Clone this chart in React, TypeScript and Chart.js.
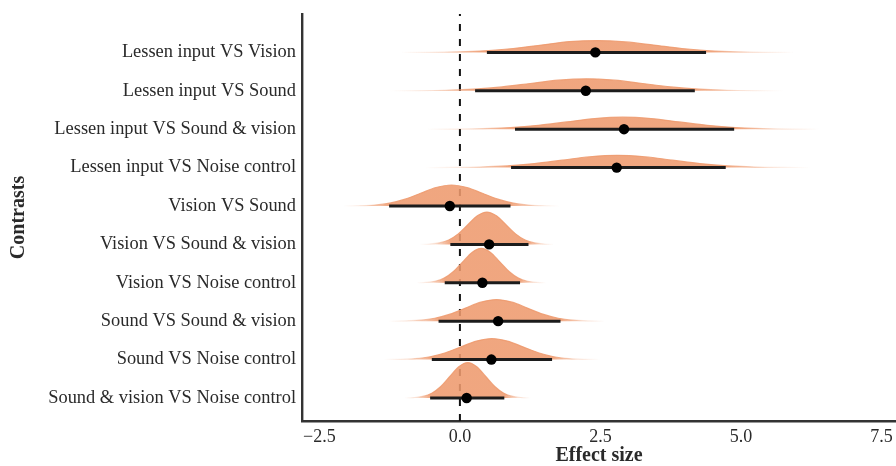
import React, { useEffect, useRef } from "react";
import { Chart, registerables } from "chart.js";

Chart.register(...registerables);

// ---------- data ----------
const categories = [
  "Lessen input VS Vision",
  "Lessen input VS Sound",
  "Lessen input VS Sound & vision",
  "Lessen input VS Noise control",
  "Vision VS Sound",
  "Vision VS Sound & vision",
  "Vision VS Noise control",
  "Sound VS Sound & vision",
  "Sound VS Noise control",
  "Sound & vision VS Noise control",
];

const pointEstimates = [2.41, 2.24, 2.92, 2.79, -0.18, 0.52, 0.4, 0.68, 0.56, 0.12];
const intervalLow = [0.48, 0.27, 0.98, 0.91, -1.26, -0.17, -0.27, -0.38, -0.5, -0.53];
const intervalHigh = [4.38, 4.18, 4.88, 4.73, 0.9, 1.22, 1.07, 1.79, 1.64, 0.79];

// posterior density profiles (effect size -> density), one per contrast
const densityX1 = [-1.05, -0.55, -0.05, 0.45, 0.95, 1.45, 1.95, 2.45, 2.95, 3.45, 3.95, 4.45, 4.95, 5.45, 5.95];
const densityY1 = [0.001, 0.004, 0.018, 0.054, 0.13, 0.243, 0.36, 0.395, 0.35, 0.243, 0.13, 0.054, 0.018, 0.004, 0.001];
const densityX2 = [-1.25, -0.75, -0.25, 0.25, 0.75, 1.25, 1.75, 2.25, 2.75, 3.25, 3.75, 4.25, 4.75, 5.25, 5.75];
const densityY2 = [0.001, 0.004, 0.018, 0.054, 0.13, 0.243, 0.355, 0.4, 0.353, 0.243, 0.13, 0.054, 0.018, 0.004, 0.001];
const densityX3 = [-0.6, -0.1, 0.4, 0.9, 1.4, 1.9, 2.4, 2.9, 3.4, 3.9, 4.4, 4.9, 5.4, 5.9, 6.4];
const densityY3 = [0.001, 0.004, 0.018, 0.054, 0.13, 0.243, 0.353, 0.4, 0.353, 0.243, 0.13, 0.054, 0.018, 0.004, 0.001];
const densityX4 = [-0.63, -0.14, 0.35, 0.84, 1.33, 1.82, 2.31, 2.8, 3.29, 3.78, 4.27, 4.76, 5.25, 5.74, 6.23];
const densityY4 = [0.001, 0.005, 0.018, 0.055, 0.133, 0.249, 0.362, 0.41, 0.362, 0.249, 0.133, 0.055, 0.018, 0.005, 0.001];
const densityX5 = [-2.075, -1.8, -1.525, -1.25, -0.975, -0.7, -0.425, -0.15, 0.125, 0.4, 0.675, 0.95, 1.225, 1.5, 1.775];
const densityY5 = [0.0015, 0.008, 0.031, 0.095, 0.227, 0.425, 0.617, 0.7, 0.617, 0.425, 0.227, 0.095, 0.031, 0.008, 0.0015];
const densityX6 = [-0.71, -0.54, -0.37, -0.2, -0.03, 0.14, 0.31, 0.48, 0.65, 0.82, 0.99, 1.16, 1.33, 1.5, 1.67];
const densityY6 = [0.002, 0.012, 0.048, 0.146, 0.351, 0.656, 0.953, 1.08, 0.953, 0.656, 0.351, 0.146, 0.048, 0.012, 0.002];
const densityX7 = [-0.775, -0.61, -0.445, -0.28, -0.115, 0.05, 0.215, 0.38, 0.545, 0.71, 0.875, 1.04, 1.205, 1.37, 1.535];
const densityY7 = [0.003, 0.013, 0.051, 0.155, 0.374, 0.698, 1.014, 1.15, 1.014, 0.698, 0.374, 0.155, 0.051, 0.013, 0.003];
const densityX8 = [-1.275, -1.0, -0.725, -0.45, -0.175, 0.1, 0.375, 0.65, 0.925, 1.2, 1.475, 1.75, 2.025, 2.3, 2.575];
const densityY8 = [0.0015, 0.008, 0.032, 0.097, 0.234, 0.437, 0.635, 0.72, 0.635, 0.437, 0.234, 0.097, 0.032, 0.008, 0.0015];
const densityX9 = [-1.355, -1.08, -0.805, -0.53, -0.255, 0.02, 0.295, 0.57, 0.845, 1.12, 1.395, 1.67, 1.945, 2.22, 2.495];
const densityY9 = [0.0015, 0.008, 0.031, 0.095, 0.227, 0.425, 0.617, 0.7, 0.617, 0.425, 0.227, 0.095, 0.031, 0.008, 0.0015];
const densityX10 = [-0.98, -0.82, -0.66, -0.5, -0.34, -0.18, -0.02, 0.14, 0.3, 0.46, 0.62, 0.78, 0.94, 1.1, 1.26];
const densityY10 = [0.003, 0.013, 0.052, 0.16, 0.384, 0.716, 1.041, 1.18, 1.041, 0.716, 0.384, 0.16, 0.052, 0.013, 0.003];

const densityXs = [densityX1, densityX2, densityX3, densityX4, densityX5, densityX6, densityX7, densityX8, densityX9, densityX10];
const densityYs = [densityY1, densityY2, densityY3, densityY4, densityY5, densityY6, densityY7, densityY8, densityY9, densityY10];

const xTicks = [-2.5, 0, 2.5, 5, 7.5];
const referenceEffect = 0;

// ---------- layout / style ----------
const X_MIN = -2.81;
const X_MAX = 7.76;
const Y_MIN = -0.6;
const Y_MAX = 10.0;
const DENSITY_SCALE = 0.78; // row units per density unit
const FONT = "'Liberation Serif', 'DejaVu Serif', serif";
const TEXT_COLOR = "#2a2a2a";
const AXIS_COLOR = "#333333";

const n = categories.length;
const rowOf = (i: number) => n - 1 - i; // first category on top

function slabGradient(chart: any, i: number) {
  const solid = "rgba(238,154,110,0.88)";
  const area = chart.chartArea;
  if (!area) return solid;
  const xs = chart.scales.x;
  const dx = densityXs[i];
  const p0 = xs.getPixelForValue(dx[0]);
  const p1 = xs.getPixelForValue(dx[dx.length - 1]);
  const pos = (v: number) =>
    Math.min(1, Math.max(0, (xs.getPixelForValue(v) - p0) / (p1 - p0)));
  const g = chart.ctx.createLinearGradient(p0, 0, p1, 0);
  g.addColorStop(0, "rgba(238,154,110,0)");
  g.addColorStop(pos(intervalLow[i]) * 0.5, "rgba(238,154,110,0.25)");
  g.addColorStop(pos(intervalLow[i]), solid);
  g.addColorStop(pos(intervalHigh[i]), solid);
  g.addColorStop(pos(intervalHigh[i]) + (1 - pos(intervalHigh[i])) * 0.5, "rgba(238,154,110,0.25)");
  g.addColorStop(1, "rgba(238,154,110,0)");
  return g;
}

export default function App() {
  const canvasRef = useRef<HTMLCanvasElement | null>(null);

  useEffect(() => {
    const canvas = canvasRef.current;
    if (!canvas) return;

    const datasets: any[] = [];

    // reference line at zero effect
    datasets.push({
      type: "line",
      data: [
        { x: referenceEffect, y: Y_MIN },
        { x: referenceEffect, y: Y_MAX },
      ],
      borderColor: "#111111",
      borderWidth: 2,
      borderDash: [7, 8],
      pointRadius: 0,
      fill: false,
      order: 5,
    });

    categories.forEach((_, i) => {
      const row = rowOf(i);
      datasets.push({
        type: "line",
        data: densityXs[i].map((x, k) => ({ x, y: row + densityYs[i][k] * DENSITY_SCALE })),
        borderColor: (ctx: any) => slabGradient(ctx.chart, i),
        backgroundColor: (ctx: any) => slabGradient(ctx.chart, i),
        borderWidth: 1.2,
        pointRadius: 0,
        cubicInterpolationMode: "monotone",
        fill: { value: row },
        order: 4,
      });
      datasets.push({
        type: "line",
        data: [
          { x: intervalLow[i], y: row },
          { x: intervalHigh[i], y: row },
        ],
        borderColor: "#1c1c1c",
        borderWidth: 3,
        pointRadius: 0,
        fill: false,
        order: 2,
      });
    });

    datasets.push({
      type: "scatter",
      data: pointEstimates.map((x, i) => ({ x, y: rowOf(i) })),
      backgroundColor: "#000000",
      borderWidth: 0,
      pointRadius: 5.2,
      order: 1,
    });

    const chart = new Chart(canvas, {
      type: "scatter",
      data: { datasets },
      options: {
        responsive: false,
        animation: false,
        events: [],
        layout: { autoPadding: false, padding: { top: 14, left: 0, right: 0, bottom: 0 } },
        plugins: {
          legend: { display: false },
          tooltip: { enabled: false },
          title: { display: false },
        },
        scales: {
          x: {
            type: "linear",
            min: X_MIN,
            max: X_MAX,
            afterBuildTicks: (scale: any) => {
              scale.ticks = xTicks.map((v) => ({ value: v }));
            },
            afterFit: (scale: any) => {
              scale.height = 45;
              scale.paddingLeft = 0;
              scale.paddingRight = 0;
            },
            grid: { display: false, drawTicks: false },
            border: { display: true, color: AXIS_COLOR, width: 2.4 },
            ticks: {
              padding: 5,
              color: TEXT_COLOR,
              font: { family: FONT, size: 18 },
              callback: (v: any) => {
                const s = Math.abs(Number(v)).toFixed(1);
                return Number(v) < 0 ? "\u2212" + s : s;
              },
            },
            title: {
              display: true,
              text: "Effect size",
              color: TEXT_COLOR,
              font: { family: FONT, size: 20, weight: "bold", lineHeight: 1.0 },
              padding: { top: 0, bottom: 0 },
            },
          },
          y: {
            type: "linear",
            min: Y_MIN,
            max: Y_MAX,
            afterBuildTicks: (scale: any) => {
              scale.ticks = categories.map((_, i) => ({ value: rowOf(i) }));
            },
            afterFit: (scale: any) => {
              scale.width = 302;
              scale.paddingTop = 0;
              scale.paddingBottom = 0;
            },
            grid: { display: false, drawTicks: false },
            border: { display: true, color: AXIS_COLOR, width: 2.4 },
            ticks: {
              padding: 6,
              color: TEXT_COLOR,
              font: { family: FONT, size: 18.4 },
              callback: (v: any) => categories[n - 1 - Number(v)] ?? "",
            },
            title: {
              display: true,
              text: "Contrasts",
              color: TEXT_COLOR,
              font: { family: FONT, size: 20, weight: "bold" },
              padding: { top: 7, bottom: 0 },
            },
          },
        },
      } as any,
    });

    return () => chart.destroy();
  }, []);

  return (
    <div style={{ position: "fixed", left: 0, top: 0, width: 896, height: 466, background: "#ffffff" }}>
      <canvas ref={canvasRef} width={896} height={466} style={{ display: "block", width: 896, height: 466 }} />
    </div>
  );
}
